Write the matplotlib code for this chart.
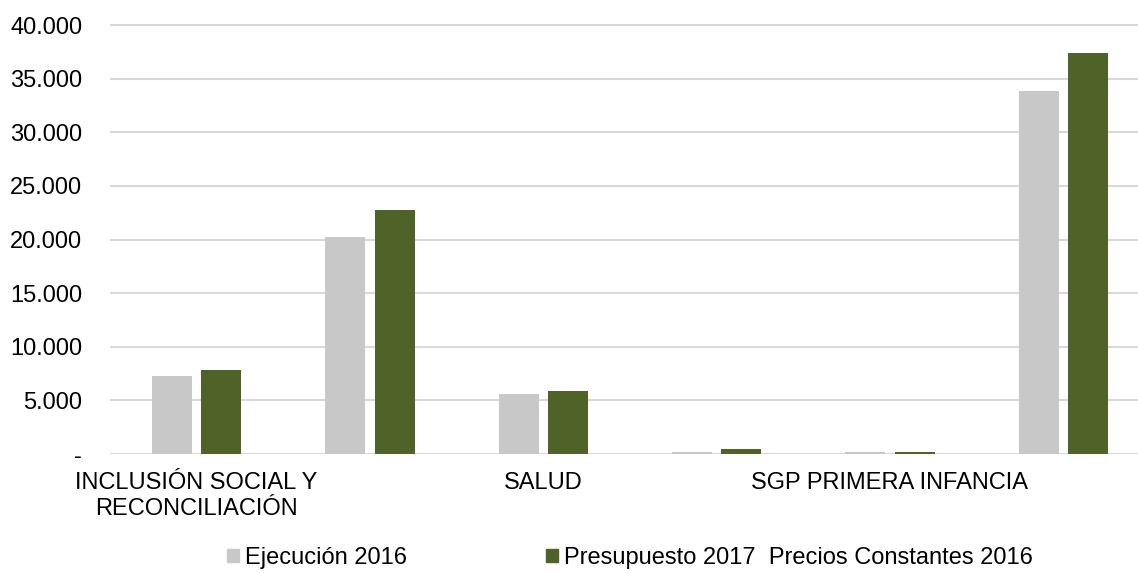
import numpy as np
import matplotlib.pyplot as plt
from matplotlib.ticker import FuncFormatter, FixedLocator
from matplotlib.patches import Patch

plt.rcParams['font.family'] = ['Liberation Sans', 'DejaVu Sans']

# Data
categories = ['INCLUSIÓN SOCIAL Y\nRECONCILIACIÓN', '', 'SALUD', '', 'SGP PRIMERA INFANCIA', '']
ejecucion_2016 = [7270, 20230, 5590, 200, 150, 33870]
presupuesto_2017 = [7830, 22750, 5870, 450, 180, 37360]
series_names = ['Ejecución 2016', 'Presupuesto 2017  Precios Constantes 2016']
colors = ['#c8c8c8', '#4f6228']

W, H = 1138, 573
fig = plt.figure(figsize=(W / 100, H / 100), dpi=100)

# axes run a little past the right edge of the picture, as in the reference
ax_left, ax_right = 110, 1150
ax_bottom, ax_top = 454, 25
ymax = 40000
ax = fig.add_axes([ax_left / W, (H - ax_bottom) / H,
                   (ax_right - ax_left) / W, (ax_bottom - ax_top) / H * 1.003])

x = np.arange(len(categories))
bw = 0.23
ax.bar(x - 0.142, ejecucion_2016, bw, color=colors[0], zorder=3)
ax.bar(x + 0.142, presupuesto_2017, bw, color=colors[1], zorder=3)

ax.set_xlim(-0.5, 5.5)
ax.set_ylim(0, ymax * 1.003)
ax.yaxis.set_major_locator(FixedLocator(np.arange(0, 40001, 5000)))


def fmt(v, pos):
    if v == 0:
        return '-'
    return f'{int(v):,}'.replace(',', '.')


ax.yaxis.set_major_formatter(FuncFormatter(fmt))
ax.grid(axis='y', color='#d9d9d9', linewidth=1.5, zorder=0)
ax.set_axisbelow(True)
for s in ax.spines.values():
    s.set_visible(False)

ax.set_xticks(x)
ax.set_xticklabels(categories, fontsize=17, color='#000000', linespacing=1.25)
ax.tick_params(axis='x', length=0, pad=13)
ax.tick_params(axis='y', length=0, pad=20, labelsize=17, labelcolor='#000000')

handles = [Patch(color=colors[0]), Patch(color=colors[1])]
fig.legend(handles, series_names, loc='center', ncol=2,
           bbox_to_anchor=(630 / W, 1 - 558 / H), frameon=False,
           fontsize=17, handlelength=0.5, handleheight=0.5,
           handletextpad=0.25, columnspacing=5.9)

fig.savefig('out.png', dpi=100)
